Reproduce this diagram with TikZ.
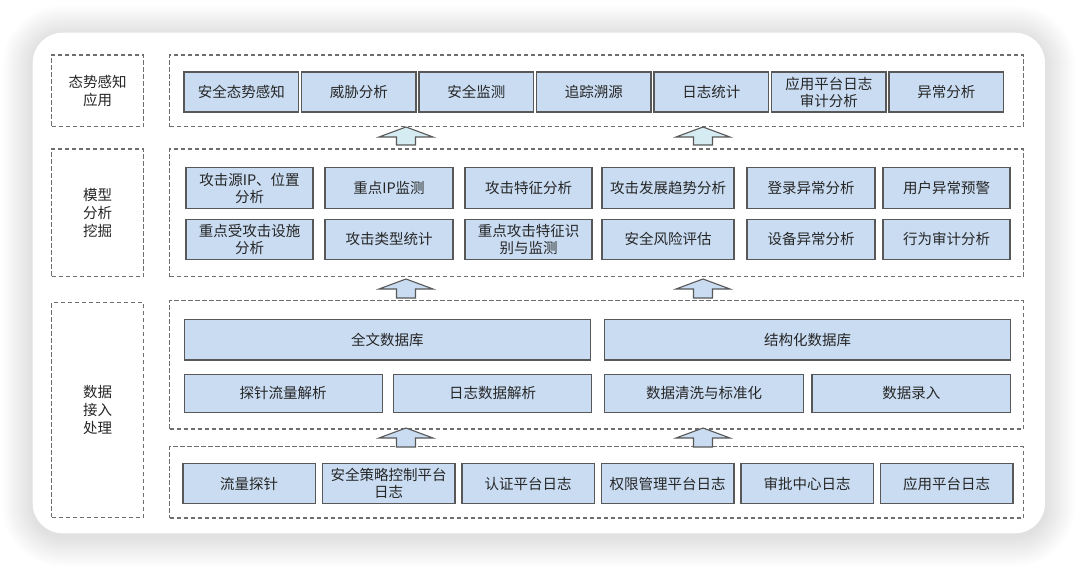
\documentclass[tikz,border=0pt]{standalone}
\usepackage{fontspec}
\newfontfamily\cjkfont{Noto Sans CJK SC}
\usetikzlibrary{positioning}

\definecolor{boxblue}{HTML}{C9DCF2}
\definecolor{boxline}{HTML}{585858}
\definecolor{dashline}{HTML}{6E6E6E}
\definecolor{arrowcyan}{HTML}{D6ECF3}
\definecolor{textgray}{HTML}{262626}

\begin{document}
\begin{tikzpicture}[x=1pt,y=-1pt,
    every node/.style={font=\cjkfont\fontsize{14.5}{17}\selectfont, text=textgray, align=center, inner sep=0pt},
    func/.style={draw=boxline, line width=1.3pt, fill=boxblue, minimum height=40pt},
    toprow/.style={func, minimum width=114.5pt},
    srcrow/.style={func, minimum width=132.5pt},
    layer/.style={draw=dashline, line width=1.1pt, dash pattern=on 4.5pt off 2.5pt},
    sidelabel/.style={layer, minimum width=92pt, font=\cjkfont\fontsize{14.5}{18}\selectfont},
    uparrow/.style={draw=boxline, line width=1.1pt, line join=miter}]

\useasboundingbox (0,0) rectangle (1080,567);
\fill[white] (0,0) rectangle (1080,567);

% card with soft shadow
\foreach \s [evaluate=\s as \rr using 30+\s] in {2,4,...,30}
  \fill[black, opacity=0.007, rounded corners=\rr pt] (32.7-\s,32.7-\s+3) rectangle (1045+\s,533.3+\s+3);
\fill[white, rounded corners=30pt] (32.7,32.7) rectangle (1045,533.3);

% left labels
\node[sidelabel, minimum height=71.7pt] (lblApp) at (97.6,90.85) {态势感知\\应用};
\node[sidelabel, minimum height=127.7pt] (lblModel) at (97.6,212.85) {模型\\分析\\挖掘};
\node[sidelabel, minimum height=214.6pt] (lblData) at (97.6,410) {数据\\接入\\处理};

% layer frames
\node[layer, minimum width=854pt, minimum height=71.7pt] (app) at (596.5,90.85) {};
\node[layer, minimum width=854pt, minimum height=127.7pt] (model) at (596.5,212.85) {};
\node[layer, minimum width=854pt, minimum height=128.3pt] (proc) at (596.5,364.85) {};
\node[layer, minimum width=854pt, minimum height=71.3pt] (src) at (596.5,482.35) {};

% application layer
\node[toprow] (a1) at (241.25,92) {安全态势感知};
\node[toprow, right=1.7pt of a1] (a2) {威胁分析};
\node[toprow, right=1.7pt of a2] (a3) {安全监测};
\node[toprow, right=1.7pt of a3] (a4) {追踪溯源};
\node[toprow, right=1.7pt of a4] (a5) {日志统计};
\node[toprow, right=1.7pt of a5] (a6) {应用平台日志\\审计分析};
\node[toprow, right=1.7pt of a6] (a7) {异常分析};

% model layer
\node[func, minimum width=127pt, minimum height=41pt] (m1) at (249.5,188) {攻击源IP、位置\\分析};
\node[func, minimum width=128pt, minimum height=41pt] (m2) at (389,188) {重点IP监测};
\node[func, minimum width=127pt, minimum height=41pt] (m3) at (528.5,188) {攻击特征分析};
\node[func, minimum width=132pt, minimum height=41pt] (m4) at (668,188) {攻击发展趋势分析};
\node[func, minimum width=128pt, minimum height=41pt] (m5) at (811,188) {登录异常分析};
\node[func, minimum width=127pt, minimum height=41pt] (m6) at (946.5,188) {用户异常预警};
\node[func, minimum width=127pt] (n1) at (249.5,239.3) {重点受攻击设施\\分析};
\node[func, minimum width=128pt] (n2) at (389,239.3) {攻击类型统计};
\node[func, minimum width=127pt] (n3) at (528.5,239.3) {重点攻击特征识\\别与监测};
\node[func, minimum width=132pt] (n4) at (668,239.3) {安全风险评估};
\node[func, minimum width=128pt] (n5) at (811,239.3) {设备异常分析};
\node[func, minimum width=127pt] (n6) at (946.5,239.3) {行为审计分析};

% processing layer
\node[func, minimum width=406.4pt, minimum height=40.7pt] (db1) at (387.4,339.7) {全文数据库};
\node[func, minimum width=406.3pt, minimum height=40.7pt] (db2) at (807.5,339.7) {结构化数据库};
\node[func, minimum width=198pt, minimum height=38.5pt] (p1) at (283.2,393.5) {探针流量解析};
\node[func, minimum width=198.5pt, minimum height=38.5pt] (p2) at (492.5,393.5) {日志数据解析};
\node[func, minimum width=198.7pt, minimum height=38.5pt] (p3) at (704,393.5) {数据清洗与标准化};
\node[func, minimum width=198.7pt, minimum height=38.5pt] (p4) at (911.3,393.5) {数据录入};

% source layer
\node[srcrow] (s1) at (249.2,483.7) {流量探针};
\node[srcrow, right=5.7pt of s1] (s2) {安全策略控制平台\\日志};
\node[srcrow, right=5.7pt of s2] (s3) {认证平台日志};
\node[srcrow, right=5.7pt of s3] (s4) {权限管理平台日志};
\node[srcrow, right=5.7pt of s4] (s5) {审批中心日志};
\node[srcrow, right=5.7pt of s5] (s6) {应用平台日志};

% block arrows between layers
\foreach \ax/\ay/\ab/\col in {406/127/145/arrowcyan, 703/127/145/arrowcyan,
                              406/279/298/boxblue, 703/279/298/boxblue,
                              406/428/447/boxblue, 703/428/447/boxblue}
  \draw[uparrow, fill=\col] (\ax,\ay) -- (\ax+27,\ay+10) -- (\ax+9.5,\ay+10) -- (\ax+9.5,\ab)
        -- (\ax-9.5,\ab) -- (\ax-9.5,\ay+10) -- (\ax-27,\ay+10) -- cycle;

\end{tikzpicture}
\end{document}
